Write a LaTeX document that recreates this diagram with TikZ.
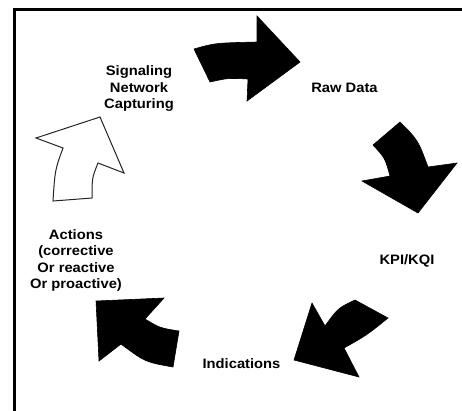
\documentclass[tikz,border=0pt]{standalone}
\usepackage{fontspec}
\newfontfamily\labfont[FakeStretch=1.08]{Liberation Sans}
\begin{document}
\begin{tikzpicture}[x=1bp,y=-1bp,
  lab/.style={font=\labfont\bfseries\fontsize{13.7}{16.3}\selectfont, align=center, inner sep=0pt, text=black},
  blackarrow/.style={fill=black, draw=black, line width=0.6bp, line join=miter},
  whitearrow/.style={fill=white, draw=black!85, line width=1bp, line join=miter}]
\useasboundingbox (0,0) rectangle (462,410);
\fill[white] (0,0) rectangle (462,410);
% frame
\draw[line width=2.7bp] (14.3,412) -- (14.3,9.7) -- (464,9.7);
% arrows
\path[blackarrow] (194,49) .. controls (215,43) .. (257,42) -- (257,16) -- (300,62) -- (247,101) -- (248,79) .. controls (228,78) .. (210,82) -- cycle;
\path[blackarrow] (373,145) -- (400,122) .. controls (418,140) .. (428,167) -- (457,163) -- (418,213) -- (362,181) -- (390,176) .. controls (385,158) .. cycle;
\path[blackarrow] (294,360) -- (312,303) -- (325,326) .. controls (338,308) .. (355,300) -- (388,318) .. controls (367,335) .. (344,348) -- (359,377) -- cycle;
\path[blackarrow] (96,301) -- (164,298) -- (145,319) .. controls (160,328) .. (179,331) -- (173,367) .. controls (145,362) .. (121,344) -- (99,361) -- cycle;
\path[whitearrow] (53,201) -- (92,198) .. controls (92,178) .. (98,163) -- (124,173) -- (100,117) -- (36,138) -- (63,148) .. controls (55,170) .. cycle;
% labels
\node[lab] (sig) at (139,88.7) {Signaling\\Network\\Capturing};
\node[lab, anchor=base] (raw) at (344.5,92.3) {Raw Data};
\node[lab, anchor=base] (kpi) at (407,264) {KPI/KQI};
\node[lab, anchor=base] (ind) at (241.5,368) {Indications};
\node[lab] (act) at (76,260.5) {Actions\\(corrective\\Or reactive\\Or proactive)};
\end{tikzpicture}
\end{document}
